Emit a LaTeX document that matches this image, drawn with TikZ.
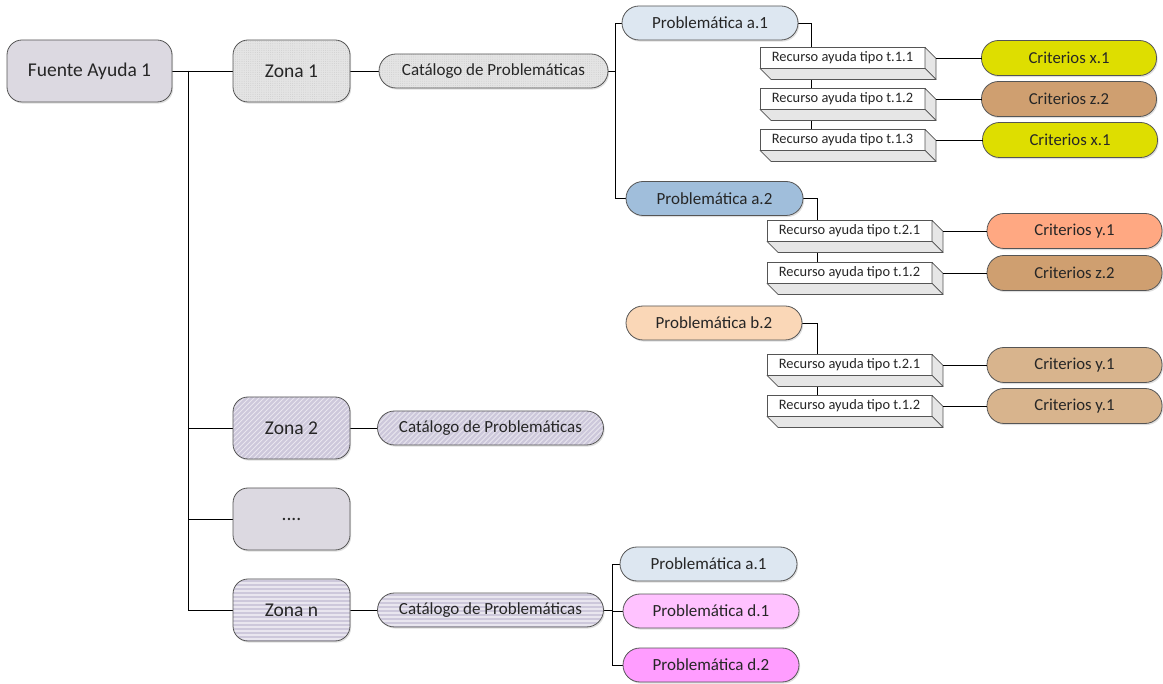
\documentclass[tikz,border=0pt]{standalone}
\usepackage{fontspec}
\setmainfont{Carlito}
\usetikzlibrary{shadows,patterns.meta,backgrounds}

\definecolor{edge}{HTML}{555555}
\definecolor{txt}{HTML}{262626}
\definecolor{lavgray}{HTML}{DCD9E1}
\definecolor{dotgray}{HTML}{E4E4E4}
\definecolor{lav}{HTML}{CDC8DB}
\definecolor{pa}{HTML}{DDE7F1}
\definecolor{pblue}{HTML}{A0BEDB}
\definecolor{ppeach}{HTML}{FAD7B7}
\definecolor{kyellow}{HTML}{DEDE00}
\definecolor{kbrown}{HTML}{CF9F70}
\definecolor{ksalmon}{HTML}{FFA882}
\definecolor{ktan}{HTML}{D8B48D}
\definecolor{dpink}{HTML}{FFC2FF}
\definecolor{dmagenta}{HTML}{FF9DFF}
\definecolor{face}{HTML}{E6E6E6}

\tikzset{
  base/.style={draw=edge, line width=0.8pt, inner sep=0pt, outer sep=0pt,
    text=txt, align=center,
    drop shadow={shadow xshift=1.2pt, shadow yshift=-1.6pt, opacity=0.25}},
  bigbox/.style={base, rounded corners=15pt, minimum width=#1, minimum height=62pt,
    font=\fontsize{19.5}{22}\selectfont},
  pill/.style={base, rounded corners=17pt, minimum width=#1, minimum height=34pt,
    font=\fontsize{17}{20}\selectfont},
  crit/.style={base, rounded corners=17pt, minimum width=175pt, minimum height=35pt,
    font=\fontsize{16.7}{20}\selectfont},
  dotted fill/.style={preaction={fill=dotgray},
    pattern={Dots[distance=2.2pt, radius=0.4pt]}, pattern color=black!22},
  slant fill/.style={fill=lav, path picture={
    \foreach \i in {-70,-65,...,240}
      \draw[white!55!lav, line width=1pt]
        ([xshift=\i pt]path picture bounding box.south west) -- ++(90pt,90pt);}},
  stripe fill/.style={fill=lav, path picture={
    \foreach \i in {2,6,...,70}
      \draw[white!55!lav, line width=1.3pt]
        ([yshift=\i pt]path picture bounding box.south west) -- ++(300pt,0pt);}},
  recurso/.style={draw=edge, line width=0.7pt, fill=white, inner sep=0pt, outer sep=0pt,
    minimum width=165pt, minimum height=21pt, text=txt,
    font=\fontsize{14.4}{16}\selectfont},
  sideface/.style={draw=edge, line width=0.7pt, fill=face, line join=round},
  link/.style={draw=black, line width=0.8pt},
}

\begin{document}
\begin{tikzpicture}[x=1pt, y=-1pt]
\useasboundingbox (0,0) rectangle (1163,684);

% source and zones
\node[bigbox=165pt, fill=lavgray] (fa) at (89.5,71) {Fuente Ayuda 1};
\node[bigbox=117pt, dotted fill] (z1) at (291.5,71) {Zona 1};
\node[bigbox=117pt, slant fill] (z2) at (291.5,428) {Zona 2};
\node[bigbox=117pt, fill=lavgray] (zd) at (291.5,519) {....};
\node[bigbox=117pt, stripe fill] (zn) at (291.5,610) {Zona n};

% catalogues
\node[pill=229pt, dotted fill] (c1) at (493.5,71) {Catálogo de Problemáticas};
\node[pill=226pt, slant fill] (c2) at (490.5,428) {Catálogo de Problemáticas};
\node[pill=226pt, stripe fill] (cn) at (490.5,610) {Catálogo de Problemáticas};

% problems
\node[pill=176pt, fill=pa] (pa1) at (710,23) {Problemática a.1};
\node[pill=177pt, fill=pblue] (pa2) at (714.5,198.5) {Problemática a.2};
\node[pill=176pt, fill=ppeach] (pb2) at (714,323) {Problemática b.2};
\node[pill=177pt, fill=pa] (q1) at (708.5,564) {Problemática a.1};
\node[pill=176pt, fill=dpink] (q2) at (711,611) {Problemática d.1};
\node[pill=176pt, fill=dmagenta] (q3) at (711,665) {Problemática d.2};

% resources
\node[recurso] (r11) at (842.5,58) {Recurso ayuda tipo t.1.1};
\node[recurso] (r12) at (842.5,99) {Recurso ayuda tipo t.1.2};
\node[recurso] (r13) at (842.5,140) {Recurso ayuda tipo t.1.3};
\node[recurso] (r21) at (849.5,231) {Recurso ayuda tipo t.2.1};
\node[recurso] (r22) at (849.5,273) {Recurso ayuda tipo t.1.2};
\node[recurso] (r31) at (849.5,365) {Recurso ayuda tipo t.2.1};
\node[recurso] (r32) at (849.5,406) {Recurso ayuda tipo t.1.2};

% extruded faces of the resource boxes
\foreach \r in {r11,r12,r13,r21,r22,r31,r32}{
  \path[sideface] (\r.north east) -- ([shift={(11pt,-11pt)}]\r.north east)
    -- ([shift={(11pt,-11pt)}]\r.south east) -- (\r.south east) -- cycle;
  \path[sideface] (\r.south west) -- (\r.south east)
    -- ([shift={(11pt,-11pt)}]\r.south east) -- ([shift={(11pt,-11pt)}]\r.south west) -- cycle;
}

% criteria
\node[crit, fill=kyellow] (k11) at (1069,58) {Criterios x.1};
\node[crit, fill=kbrown] (k12) at (1069,99) {Criterios z.2};
\node[crit, fill=kyellow] (k13) at (1070,140) {Criterios x.1};
\node[crit, fill=ksalmon] (k21) at (1074.5,231) {Criterios y.1};
\node[crit, fill=kbrown] (k22) at (1074.5,273) {Criterios z.2};
\node[crit, fill=ktan] (k31) at (1074.5,365) {Criterios y.1};
\node[crit, fill=ktan] (k32) at (1074.5,406) {Criterios y.1};

% junction points
\coordinate (t0) at (188,71);
\coordinate (j1) at (615,71);
\coordinate (v1) at (811,140);
\coordinate (v2) at (817,273);
\coordinate (v3) at (817,406);
\coordinate (j3) at (612,610);

\begin{scope}[on background layer]
  \draw[link] (fa.east) -- (z1.west);
  \draw[link] (t0) |- (z2.west);
  \draw[link] (t0) |- (zd.west);
  \draw[link] (t0) |- (zn.west);
  \draw[link] (z1.east) -- (c1.west);
  \draw[link] (z2.east) -- (c2.west);
  \draw[link] (zn.east) -- (cn.west);
  \draw[link] (c1.east) -- (j1);
  \draw[link] (j1) |- (pa1.west);
  \draw[link] (j1) |- (pa2.west);
  \draw[link] (pa1.east) -| (v1);
  \draw[link] (pa2.east) -| (v2);
  \draw[link] (pb2.east) -| (v3);
  \draw[link] (cn.east) -- (j3);
  \draw[link] (j3) |- (q1.west);
  \draw[link] (j3) |- (q2.west);
  \draw[link] (j3) |- (q3.west);
\end{scope}

% resource to criteria links
\foreach \r/\k in {r11/k11,r12/k12,r13/k13,r21/k21,r22/k22,r31/k31,r32/k32}
  \draw[link] ([xshift=11pt]\r.east) -- (\k.west);

\end{tikzpicture}
\end{document}
